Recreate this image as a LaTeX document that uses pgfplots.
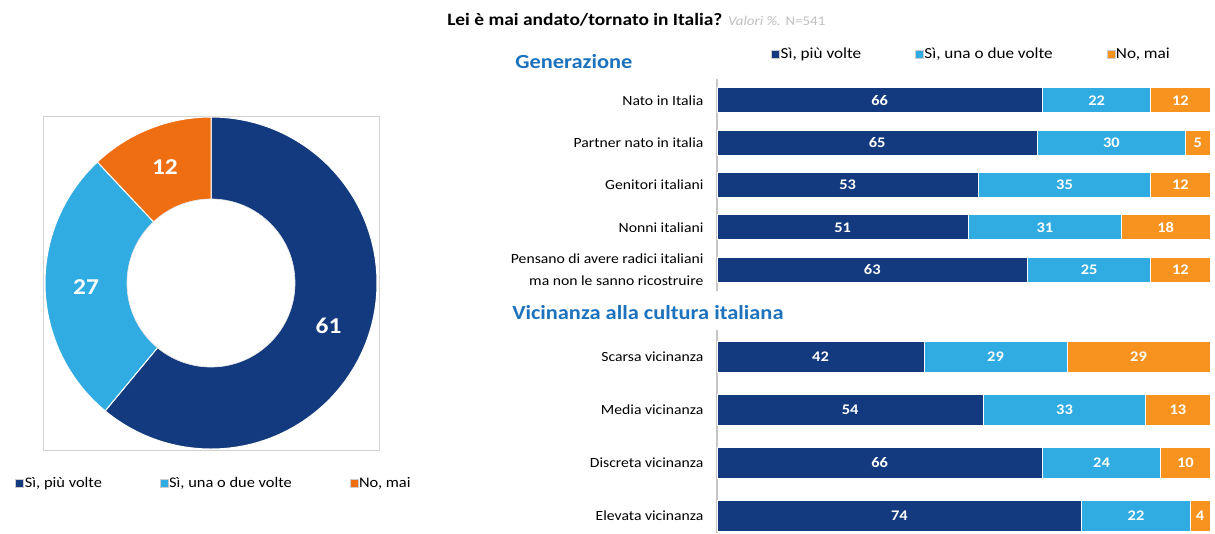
\documentclass[border=0pt]{standalone}
\usepackage{fontspec}
\setmainfont{Carlito}[FakeStretch=1.12]
\usepackage{pgfplots}
\pgfplotsset{compat=1.18}
\usepackage{pgfplotstable}

\definecolor{cDark}{HTML}{133A7E}
\definecolor{cLight}{HTML}{31ACE3}
\definecolor{cOrange}{HTML}{F7931E}
\definecolor{cOrangeD}{HTML}{F06E12}
\definecolor{cHead}{HTML}{1C72BD}
\definecolor{cGrayT}{HTML}{BFBFBF}

% Generazione
\pgfplotstableread{
cat piu una mai
1   66  22  12
2   65  30  5
3   53  35  12
4   51  31  18
5   63  25  12
}\gen

% Vicinanza alla cultura italiana
\pgfplotstableread{
cat piu una mai
1   42  29  29
2   54  33  13
3   66  24  10
4   74  22  4
}\vic

% label positions = middle of each segment
\pgfplotstablecreatecol[expr={\thisrow{piu}/2}]{m1}\gen
\pgfplotstablecreatecol[expr={\thisrow{piu}+\thisrow{una}/2}]{m2}\gen
\pgfplotstablecreatecol[expr={\thisrow{piu}+\thisrow{una}+\thisrow{mai}/2}]{m3}\gen
\pgfplotstablecreatecol[expr={\thisrow{piu}/2}]{m1}\vic
\pgfplotstablecreatecol[expr={\thisrow{piu}+\thisrow{una}/2}]{m2}\vic
\pgfplotstablecreatecol[expr={\thisrow{piu}+\thisrow{una}+\thisrow{mai}/2}]{m3}\vic

% donut: totale
\def\dA{61}
\def\dB{27}
\def\dC{12}

\pgfplotsset{
  sqlegend/.style={legend image code/.code={
      \draw[##1,draw=gray!40,line width=0.4pt] (0pt,-3pt) rectangle (6pt,3pt);}},
  stackbars/.style={
    scale only axis, xbar stacked, xmin=0, xmax=100, y dir=reverse,
    axis x line=none, axis y line*=left,
    y axis line style={draw=gray!45, line width=1pt},
    major tick length=0pt, clip=false,
    yticklabel style={inner sep=0pt, xshift=-10pt, align=right,
      font=\fontsize{10.5}{16.5}\selectfont},
    every axis plot/.append style={draw=white, line width=0.75pt},
  },
  labelax/.style={
    scale only axis, xmin=0, xmax=100, y dir=reverse, hide axis, clip=false,
    no markers,
  },
  labelplot/.style={draw=none, mark=none, nodes near coords,
    point meta=explicit symbolic,
    every node near coord/.append style={anchor=center, text=white,
      font=\bfseries\fontsize{11}{13}\selectfont}},
}

\begin{document}
\begin{tikzpicture}
\path[use as bounding box] (0,0) rectangle (911.25pt,-399.75pt);

\node[anchor=west, inner sep=0pt] at (335.25pt,-15pt)
  {\fontsize{13}{15}\selectfont\bfseries Lei è mai andato/tornato in Italia?
   {\mdseries\fontsize{10}{12}\selectfont\color{cGrayT}\itshape Valori \%.\upshape{} N=541}};

\node[anchor=west, inner sep=0pt, text=cHead, font=\bfseries\fontsize{15}{17}\selectfont]
  at (386.25pt,-46.5pt) {Generazione};
\node[anchor=west, inner sep=0pt, text=cHead, font=\bfseries\fontsize{15}{17}\selectfont]
  at (384pt,-234.75pt) {Vicinanza alla cultura italiana};

% ---- donut ----
\pgfmathsetmacro\aA{90-3.6*\dA}
\pgfmathsetmacro\aB{\aA-3.6*\dB}
\pgfmathsetmacro\aC{\aB-3.6*\dC}
\pgfmathsetmacro\mA{(90+\aA)/2}
\pgfmathsetmacro\mB{(\aA+\aB)/2}
\pgfmathsetmacro\mC{(\aB+\aC)/2}
\begin{axis}[
  at={(32.25pt,-337.5pt)}, anchor=south west,
  scale only axis, width=252pt, height=250.5pt,
  xmin=-168, xmax=168, ymin=-167, ymax=167,
  xtick=\empty, ytick=\empty,
  axis line style={draw=gray!35, line width=0.75pt},
  clip=false, sqlegend, legend columns=3,
  legend style={at={(-0.083,-0.099)}, anchor=west, draw=none, fill=none,
    inner sep=0pt, nodes={inner xsep=0.75pt}, font=\fontsize{11}{13}\selectfont,
    /tikz/every even column/.append style={column sep=42.5pt}},
]
\addlegendimage{fill=cDark}\addlegendentry{Sì, più volte}
\addlegendimage{fill=cLight}\addlegendentry{Sì, una o due volte}
\addlegendimage{fill=cOrangeD}\addlegendentry{No, mai}
\filldraw[fill=cDark, draw=white, line width=0.75pt] (axis cs:0,0) -- ++(90:124.5pt)
  arc[start angle=90, end angle=\aA, radius=124.5pt] -- cycle;
\filldraw[fill=cLight, draw=white, line width=0.75pt] (axis cs:0,0) -- ++(\aA:124.5pt)
  arc[start angle=\aA, end angle=\aB, radius=124.5pt] -- cycle;
\filldraw[fill=cOrangeD, draw=white, line width=0.75pt] (axis cs:0,0) -- ++(\aB:124.5pt)
  arc[start angle=\aB, end angle=\aC, radius=124.5pt] -- cycle;
\filldraw[fill=white, draw=gray!20, line width=0.5pt] (axis cs:0,0) circle[radius=63pt];
\path (axis cs:0,0) ++(\mA:93.75pt) node[text=white, font=\bfseries\fontsize{17}{19}\selectfont] {\dA};
\path (axis cs:0,0) ++(\mB:93.75pt) node[text=white, font=\bfseries\fontsize{17}{19}\selectfont] {\dB};
\path (axis cs:0,0) ++(\mC:93.75pt) node[text=white, font=\bfseries\fontsize{17}{19}\selectfont] {\dC};
\end{axis}

% ---- Generazione ----
\begin{axis}[stackbars,
  at={(537.75pt,-59.25pt)}, anchor=north west,
  width=369.75pt, height=159pt, bar width=18.75pt,
  ymin=0.5, ymax=5.5, ytick={1,...,5},
  yticklabels={Nato in Italia, Partner nato in italia, Genitori italiani, Nonni italiani,
    {Pensano di avere radici italiani\\ma non le sanno ricostruire}},
  sqlegend, legend columns=3,
  legend style={at={(0.11,1.118)}, anchor=west, draw=none, fill=none,
    inner sep=0pt, nodes={inner xsep=0.5pt}, font=\fontsize{11.5}{13}\selectfont,
    /tikz/every even column/.append style={column sep=40pt}},
]
\addplot[fill=cDark] table[x=piu, y=cat]{\gen};
\addlegendentry{Sì, più volte}
\addplot[fill=cLight] table[x=una, y=cat]{\gen};
\addlegendentry{Sì, una o due volte}
\addplot[fill=cOrange] table[x=mai, y=cat]{\gen};
\addlegendentry{No, mai}
\end{axis}
\begin{axis}[labelax,
  at={(537.75pt,-59.25pt)}, anchor=north west,
  width=369.75pt, height=159pt, ymin=0.5, ymax=5.5]
\addplot[labelplot] table[x=m1, y=cat, meta=piu]{\gen};
\addplot[labelplot] table[x=m2, y=cat, meta=una]{\gen};
\addplot[labelplot] table[x=m3, y=cat, meta=mai]{\gen};
\end{axis}

% ---- Vicinanza ----
\begin{axis}[stackbars,
  at={(537.75pt,-247.5pt)}, anchor=north west,
  width=369.75pt, height=152.25pt, bar width=23.25pt,
  ymin=0.5, ymax=4.33, ytick={1,...,4},
  yticklabels={Scarsa vicinanza, Media vicinanza, Discreta vicinanza, Elevata vicinanza},
]
\addplot[fill=cDark] table[x=piu, y=cat]{\vic};
\addplot[fill=cLight] table[x=una, y=cat]{\vic};
\addplot[fill=cOrange] table[x=mai, y=cat]{\vic};
\end{axis}
\begin{axis}[labelax,
  at={(537.75pt,-247.5pt)}, anchor=north west,
  width=369.75pt, height=152.25pt, ymin=0.5, ymax=4.33]
\addplot[labelplot] table[x=m1, y=cat, meta=piu]{\vic};
\addplot[labelplot] table[x=m2, y=cat, meta=una]{\vic};
\addplot[labelplot] table[x=m3, y=cat, meta=mai]{\vic};
\end{axis}
\end{tikzpicture}
\end{document}
